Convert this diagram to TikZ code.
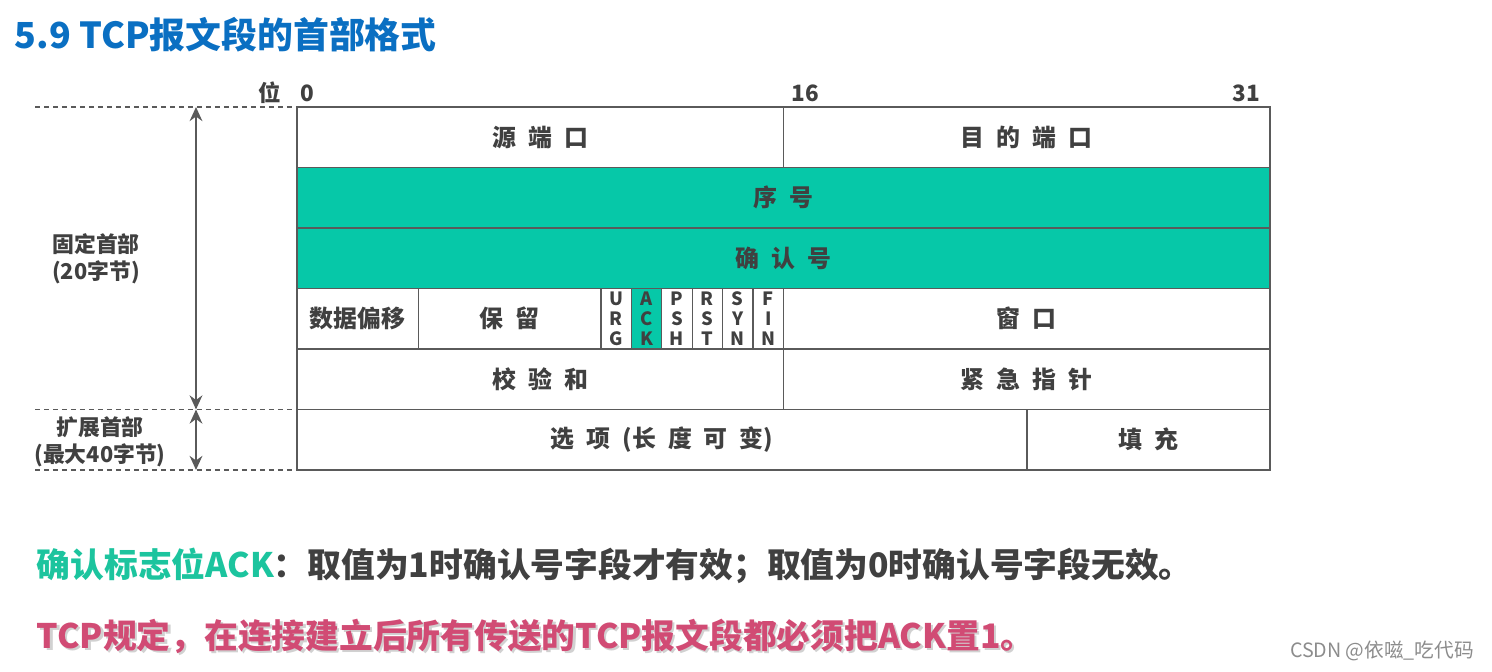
\documentclass[tikz,border=0pt]{standalone}
\usepackage{fontspec}
\setmainfont{Noto Sans CJK SC}
\newfontfamily\fieldfont[WordSpace=2.2]{Noto Sans CJK SC}
\usetikzlibrary{arrows.meta}

\definecolor{titleblue}{HTML}{0A6FC2}
\definecolor{seqgreen}{HTML}{06C8A8}
\definecolor{ackgreen}{HTML}{1CC49E}
\definecolor{linegray}{HTML}{5A5A5A}
\definecolor{textgray}{HTML}{404040}
\definecolor{notepink}{HTML}{D14B74}

\tikzset{
    cell/.style={draw=linegray, line width=0.9pt},
    greencell/.style={cell, fill=seqgreen},
    fieldtext/.style={text=textgray, font=\fieldfont\bfseries\fontsize{17}{20}\selectfont},
    flagtext/.style={text=textgray, align=center, inner sep=0pt, font=\bfseries\fontsize{13}{14.2}\selectfont},
    bittext/.style={text=textgray, font=\bfseries\fontsize{16}{18}\selectfont},
    sidetext/.style={text=textgray, align=center, font=\bfseries\fontsize{15.5}{19}\selectfont},
    dashline/.style={draw=linegray, line width=1pt, dash pattern=on 3.6pt off 2.8pt},
    spanarrow/.style={draw=linegray, line width=2pt, {Stealth[length=10pt,width=9pt]}-{Stealth[length=10pt,width=9pt]}},
    notetext/.style={anchor=west, font=\bfseries\fontsize{24}{28}\selectfont}
}

\begin{document}
\begin{tikzpicture}[x=0.025cm, y=-0.025cm]
    \useasboundingbox (0,0) rectangle (1492,671);

    % Title
    \node[anchor=west, text=titleblue, font=\bfseries\fontsize{25.5}{30}\selectfont] (title) at (10,35) {5.9 TCP报文段的首部格式};

    % Bit positions
    \node[bittext] (bitword) at (270,93) {位};
    \node[bittext, anchor=west] (bit0) at (296,93) {0};
    \node[bittext, anchor=west] (bit16) at (787,93) {16};
    \node[bittext, anchor=east] (bit31) at (1265,93) {31};

    % Row 1: ports
    \draw[cell] (297,107) rectangle node[fieldtext] (srcport) {源 端 口} (783.5,167.5);
    \draw[cell] (783.5,107) rectangle node[fieldtext] (dstport) {目 的 端 口} (1270,167.5);

    % Rows 2 and 3: sequence and acknowledgment numbers
    \draw[greencell] (297,167.5) rectangle node[fieldtext] (seqno) {序 号} (1270,228);
    \draw[greencell] (297,228) rectangle node[fieldtext] (ackno) {确 认 号} (1270,288.5);

    % Row 4: offset, reserved, flags, window
    \draw[cell] (297,288.5) rectangle node[fieldtext] (offset) {数据偏移} (418.6,349);
    \draw[cell] (418.6,288.5) rectangle node[fieldtext] (reserved) {保 留} (601,349);
    \fill[seqgreen] (631.4,288.5) rectangle (661.8,349);
    \foreach \a/\b/\c [count=\i from 0] in {U/R/G, A/C/K, P/S/H, R/S/T, S/Y/N, F/I/N} {
        \pgfmathsetmacro{\xl}{601+30.4*\i}
        \pgfmathsetmacro{\xr}{601+30.4*(\i+1)}
        \draw[cell] (\xl,288.5) rectangle node[flagtext] (flag\i) {\a\\\b\\\c} (\xr,349);
    }
    \draw[cell] (783.5,288.5) rectangle node[fieldtext] (window) {窗 口} (1270,349);

    % Row 5: checksum and urgent pointer
    \draw[cell] (297,349) rectangle node[fieldtext] (checksum) {校 验 和} (783.5,409.5);
    \draw[cell] (783.5,349) rectangle node[fieldtext] (urgent) {紧 急 指 针} (1270,409.5);

    % Row 6: options and padding
    \draw[cell] (297,409.5) rectangle node[fieldtext] (options) {选 项 (长 度 可 变)} (1027,470);
    \draw[cell] (1027,409.5) rectangle node[fieldtext] (padding) {填 充} (1270,470);

    % Header extent marks
    \coordinate (fixtop) at (196,107);
    \coordinate (fixbot) at (196,409.5);
    \coordinate (extbot) at (196,470);
    \draw[dashline] (35,107) -- (297,107);
    \draw[dashline] (35,409.5) -- (297,409.5);
    \draw[dashline] (35,470) -- (297,470);
    \draw[spanarrow] (fixtop) -- (fixbot);
    \draw[spanarrow] (fixbot) -- (extbot);

    \node[sidetext] (fixedlabel) at (96,259) {固定首部\\(20字节)};
    \node[sidetext] (extlabel) at (100,442) {扩展首部\\(最大40字节)};

    % Notes below the header
    \node[notetext, text=textgray] (acknote) at (32,566) {\textcolor{ackgreen}{确认标志位ACK}：取值为1时确认号字段才有效；取值为0时确认号字段无效。};
    \node[notetext, text=notepink] (tcpnote) at (32,637) {\rlap{\textcolor{black!18}{\raisebox{-1.5pt}{\hspace{1.5pt}TCP规定，在连接建立后所有传送的TCP报文段都必须把ACK置1。}}}TCP规定，在连接建立后所有传送的TCP报文段都必须把ACK置1。};

    % Watermark
    \node[anchor=east, text=black!45, font=\fontsize{14}{16}\selectfont] (mark) at (1479,651) {CSDN @依嗞\_吃代码};
\end{tikzpicture}
\end{document}
